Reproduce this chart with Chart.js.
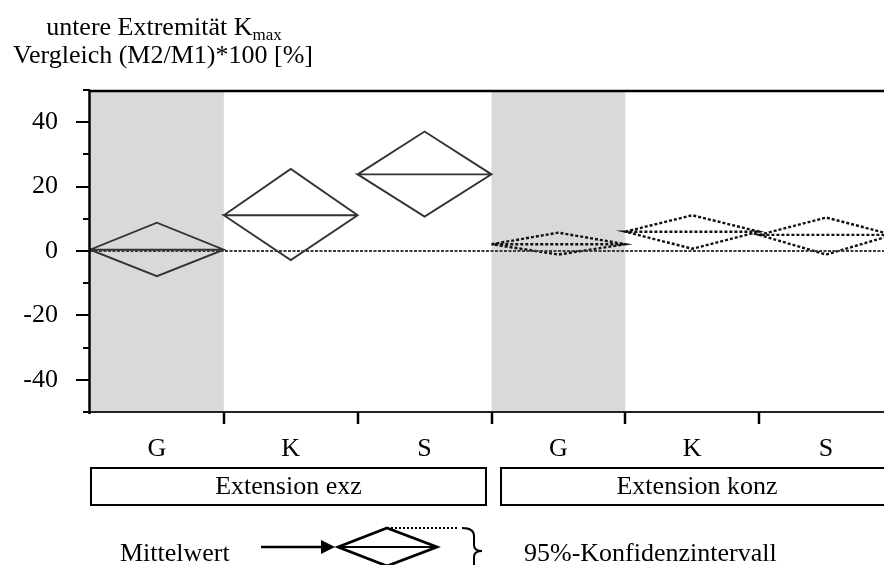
<!DOCTYPE html>
<html>
<head>
<meta charset="utf-8">
<script src="https://cdn.jsdelivr.net/npm/chart.js@4"></script>
<style>
  html, body { margin: 0; padding: 0; background: #fff; overflow: hidden; width: 884px; height: 565px; }
  canvas { display: block; }
</style>
</head>
<body>
<canvas id="c" width="900" height="565"></canvas>
<script>
// Categories along the x axis (two groups of three)
const categories = ['G', 'K', 'S', 'G', 'K', 'S'];
const groupNames = ['Extension exz', 'Extension konz'];
// Mean and 95% confidence limits of (M2/M1)*100 [%]
const means = [0.4, 11.1, 23.8, 2.1, 6.0, 5.0];
const upper = [8.8, 25.5, 37.1, 5.7, 11.1, 10.4];
const lower = [-7.8, -2.8, 10.7, -1.1, 0.7, -1.1];
// Dashed diamonds for the concentric group
const dashed = [false, false, false, true, true, true];
// Shaded categories
const shaded = [0, 3];
const yTicks = [-40, -20, 0, 20, 40];
const yMinorTicks = [-50, -30, -10, 10, 30, 50];

const FONT = 'Liberation Serif, Times New Roman, serif';
const FS = 26;

// one closed diamond per category: left -> top -> right -> bottom -> left, then the mean line
const datasets = categories.map((c, i) => ({
  data: [
    { x: i, y: means[i] },
    { x: i + 0.5, y: upper[i] },
    { x: i + 1, y: means[i] },
    { x: i + 0.5, y: lower[i] },
    { x: i, y: means[i] },
    { x: i + 1, y: means[i] }
  ],
  borderColor: dashed[i] ? '#111' : '#333',
  borderWidth: dashed[i] ? 2.4 : 1.9,
  borderDash: dashed[i] ? [3, 2] : [],
  pointRadius: 0,
  tension: 0,
  fill: false
}));

// zero reference line
datasets.unshift({
  data: [{ x: 0, y: 0 }, { x: categories.length, y: 0 }],
  borderColor: '#3c3c3c',
  borderWidth: 2,
  borderDash: [3, 1.5],
  pointRadius: 0,
  fill: false
});

const decor = {
  id: 'decor',
  beforeDatasetsDraw(chart) {
    const { ctx, chartArea: a, scales: { x } } = chart;
    ctx.save();
    ctx.fillStyle = '#d9d9d9';
    shaded.forEach(i => {
      const x0 = x.getPixelForValue(i), x1 = x.getPixelForValue(i + 1);
      ctx.fillRect(x0, a.top, x1 - x0, a.bottom - a.top);
    });
    ctx.restore();
  },
  afterDraw(chart) {
    const { ctx, chartArea: a, scales: { x, y } } = chart;
    ctx.save();
    ctx.strokeStyle = '#000';
    ctx.lineCap = 'butt';

    // frame: top, left axis, bottom
    ctx.lineWidth = 2.5;
    ctx.beginPath();
    ctx.moveTo(a.left, a.top + 1); ctx.lineTo(chart.width, a.top + 1);
    ctx.stroke();
    ctx.lineWidth = 2;
    ctx.strokeStyle = '#222';
    ctx.beginPath();
    ctx.moveTo(a.left, a.bottom); ctx.lineTo(chart.width, a.bottom);
    ctx.stroke();
    ctx.strokeStyle = '#000';
    ctx.lineWidth = 2.5;
    ctx.beginPath();
    ctx.moveTo(a.left - 0.5, a.top); ctx.lineTo(a.left - 0.5, a.bottom + 2);
    ctx.stroke();

    // y tick marks
    ctx.lineWidth = 2;
    yTicks.forEach(v => {
      const p = Math.round(y.getPixelForValue(v));
      ctx.beginPath(); ctx.moveTo(a.left - 14, p); ctx.lineTo(a.left, p); ctx.stroke();
    });
    yMinorTicks.forEach(v => {
      const p = Math.round(y.getPixelForValue(v));
      ctx.beginPath(); ctx.moveTo(a.left - 7, p); ctx.lineTo(a.left, p); ctx.stroke();
    });
    // x tick marks at category boundaries
    ctx.lineWidth = 2.5;
    for (let i = 1; i < categories.length; i++) {
      const p = Math.round(x.getPixelForValue(i));
      ctx.beginPath(); ctx.moveTo(p, a.bottom); ctx.lineTo(p, a.bottom + 12); ctx.stroke();
    }

    // group boxes
    ctx.lineWidth = 2;
    ctx.font = FS + 'px ' + FONT;
    ctx.fillStyle = '#000';
    ctx.textAlign = 'center';
    ctx.textBaseline = 'alphabetic';
    const boxes = [[91, 486], [501, 893]];
    boxes.forEach((b, i) => {
      ctx.strokeRect(b[0], 468, b[1] - b[0], 37);
      ctx.fillText(groupNames[i], (b[0] + b[1]) / 2, 494);
    });

    // title
    const sub = 'max';
    const l1 = 'untere Extremität K';
    ctx.textAlign = 'left';
    const w1 = ctx.measureText(l1).width;
    ctx.font = '17px ' + FONT;
    const ws = ctx.measureText(sub).width;
    const s1 = 164 - (w1 + ws) / 2;
    ctx.font = FS + 'px ' + FONT;
    ctx.fillText(l1, s1, 35);
    ctx.font = '17px ' + FONT;
    ctx.fillText(sub, s1 + w1, 40);
    ctx.font = FS + 'px ' + FONT;
    ctx.textAlign = 'center';
    ctx.fillText('Vergleich (M2/M1)*100 [%]', 163, 63);

    // key
    ctx.textAlign = 'left';
    ctx.fillText('Mittelwert', 120, 561);
    ctx.fillText('95%-Konfidenzintervall', 524, 561);
    ctx.lineWidth = 2.5;
    ctx.beginPath(); ctx.moveTo(261, 547); ctx.lineTo(324, 547); ctx.stroke();
    ctx.beginPath(); ctx.moveTo(335, 547); ctx.lineTo(321, 540); ctx.lineTo(321, 554); ctx.closePath(); ctx.fill();
    ctx.lineJoin = 'miter';
    ctx.lineWidth = 2.8;
    ctx.beginPath();
    ctx.moveTo(338, 547); ctx.lineTo(387, 528); ctx.lineTo(437, 547); ctx.lineTo(387, 566); ctx.closePath();
    ctx.stroke();
    ctx.lineWidth = 2;
    ctx.beginPath(); ctx.moveTo(338, 547); ctx.lineTo(437, 547); ctx.stroke();
    ctx.setLineDash([2, 2]);
    ctx.beginPath(); ctx.moveTo(391, 528); ctx.lineTo(459, 528); ctx.stroke();
    ctx.setLineDash([]);
    ctx.lineWidth = 2;
    ctx.beginPath();
    ctx.moveTo(462, 528);
    ctx.quadraticCurveTo(474, 528, 474, 536);
    ctx.lineTo(474, 545);
    ctx.quadraticCurveTo(474, 551, 482, 551);
    ctx.quadraticCurveTo(474, 551, 474, 557);
    ctx.lineTo(474, 570);
    ctx.stroke();
    ctx.restore();
  }
};

new Chart(document.getElementById('c'), {
  type: 'line',
  data: { datasets },
  options: {
    responsive: false,
    animation: false,
    devicePixelRatio: 1,
    layout: { padding: { top: 90, right: 7, left: 0, bottom: 0 } },
    plugins: { legend: { display: false }, tooltip: { enabled: false }, title: { display: false } },
    scales: {
      x: {
        type: 'linear',
        min: 0,
        max: categories.length,
        afterFit: s => { s.height = 153; },
        afterBuildTicks: s => { s.ticks = categories.map((c, i) => ({ value: i + 0.5 })); },
        ticks: {
          callback: (v, i) => categories[i],
          font: { family: FONT, size: FS },
          color: '#000',
          padding: 22,
          maxRotation: 0,
          autoSkip: false
        },
        grid: { display: false, drawTicks: false },
        border: { display: false }
      },
      y: {
        min: -50,
        max: 50,
        afterFit: s => { s.width = 90; },
        afterBuildTicks: s => { s.ticks = yTicks.map(v => ({ value: v })); },
        ticks: {
          font: { family: FONT, size: FS },
          color: '#000',
          padding: 32
        },
        grid: { display: false, drawTicks: false },
        border: { display: false }
      }
    }
  },
  plugins: [decor]
});
</script>
</body>
</html>
